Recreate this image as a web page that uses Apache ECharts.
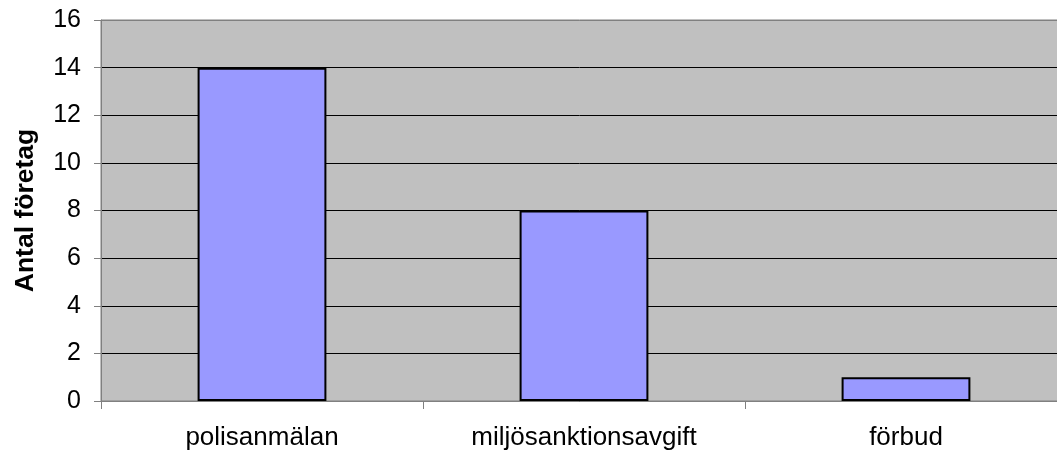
<!DOCTYPE html>
<html><head><meta charset="utf-8">
<script src="https://cdn.jsdelivr.net/npm/echarts@6/dist/echarts.min.js"></script>
<style>html,body{margin:0;padding:0;background:#fff}#c{width:1057px;height:454px}</style>
</head><body><div id="c"></div>
<script>
const categories = ['polisanmälan', 'miljösanktionsavgift', 'förbud'];
const values = [14, 8, 1];
const yTitle = 'Antal företag';

const chart = echarts.init(document.getElementById('c'));
chart.setOption({
  animation: false,
  grid: { left: 101, width: 966, top: 20, height: 381, outerBoundsMode: 'none', containLabel: false, show: true, backgroundColor: '#c0c0c0', borderColor: '#808080', borderWidth: 1 },
  xAxis: {
    type: 'category', data: categories,
    axisLine: { lineStyle: { color: '#808080', width: 1 } },
    axisTick: { show: true, length: 8, lineStyle: { color: '#808080' } },
    axisLabel: { color: '#000', fontFamily: 'Arial, Liberation Sans', fontSize: 26, margin: 24 }
  },
  yAxis: {
    type: 'value', min: 0, max: 16, interval: 2,
    name: yTitle, nameLocation: 'middle', nameGap: 62,
    nameTextStyle: { fontFamily: 'Arial, Liberation Sans', fontSize: 26.5, fontWeight: 'bold', color: '#000' },
    axisLine: { show: true, lineStyle: { color: '#808080', width: 1 } },
    axisTick: { show: true, length: 7, lineStyle: { color: '#808080' } },
    axisLabel: { color: '#000', fontFamily: 'Arial, Liberation Sans', fontSize: 25, margin: 20 },
    splitLine: { show: true, lineStyle: { color: ['#000','#000','#000','#000','#000','#000','#000','#000','#808080'], width: 1 } }
  },
  series: [{
    type: 'bar', data: values, barCategoryGap: '60%',
    itemStyle: { color: '#9999ff', borderColor: '#000', borderWidth: 2 }
  }]
});
</script></body></html>
